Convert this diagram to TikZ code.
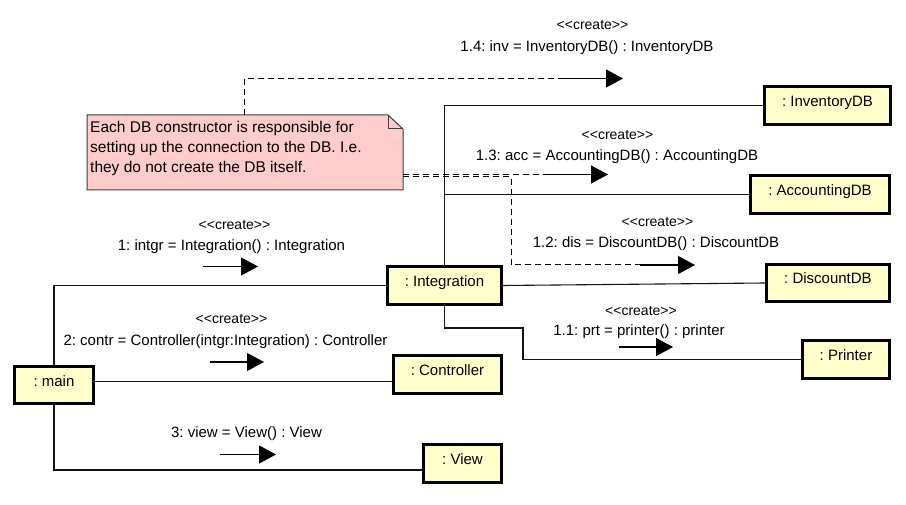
\documentclass[tikz,border=0pt]{standalone}
\usepackage{fontspec}
\setmainfont{Liberation Sans}
\usetikzlibrary{arrows.meta,backgrounds}
\definecolor{objfill}{RGB}{255,255,204}
\definecolor{notefill}{RGB}{255,204,204}
\definecolor{notedraw}{RGB}{60,60,60}
\definecolor{linec}{RGB}{20,20,20}
\newcommand{\crt}{<\kern0pt<create>\kern0pt>}
\tikzset{
  obj/.style={draw=black, line width=3pt, fill=objfill, inner sep=0pt,
    font=\fontsize{15}{18}\selectfont, text height=8pt, text depth=6pt},
  link/.style={draw=linec, line width=1.1pt},
  notelink/.style={draw=black, line width=1pt, dash pattern=on 6pt off 4pt},
  msg/.style={draw=black, line width=1.1pt, -{Triangle[length=17pt,width=18pt]}},
  lbl/.style={font=\fontsize{15}{18}\selectfont, inner sep=0pt},
  stereo/.style={font=\fontsize{14}{17}\selectfont, inner sep=0pt},
}
\begin{document}
\frenchspacing
\begin{tikzpicture}[x=1pt,y=-1pt]
\useasboundingbox (0,0) rectangle (906,505);

% objects
\node[obj, minimum width=79pt, minimum height=37pt] (main) at (54,385) {: main};
\node[obj, minimum width=114pt, minimum height=38pt] (integ) at (444.5,285.5) {: Integration};
\node[obj, minimum width=108pt, minimum height=38pt] (contr) at (447.5,374.5) {: Controller};
\node[obj, minimum width=78pt, minimum height=38pt] (view) at (462.5,463.5) {: View};
\node[obj, minimum width=126pt, minimum height=38pt] (inv) at (827.5,105.5) {: InventoryDB};
\node[obj, minimum width=139pt, minimum height=38pt] (acc) at (820,194.5) {: AccountingDB};
\node[obj, minimum width=123pt, minimum height=37pt] (disc) at (828,283) {: DiscountDB};
\node[obj, minimum width=87pt, minimum height=38pt] (prt) at (846,359.5) {: Printer};

% helper coordinates for link heights
\coordinate (ycontr) at (0,381.5);
\coordinate (yview) at (0,470);
\coordinate (prtbend) at (523,328);

\begin{scope}[on background layer]
\fill[white] (0,0) rectangle (906,505);
\draw[link] (main.north) |- (integ.west);
\draw[link] (main.east |- ycontr) -- (contr.west |- ycontr);
\draw[link] (main.south) |- (view.west |- yview);
\draw[link] (integ.north) |- (inv.west);
\draw[link] (integ.north) |- (acc.west);
\draw[link] (integ.east) -- (disc.west);
\draw[link] (integ.south) |- (prtbend) |- (prt.west);
\end{scope}

% note
\fill[notefill, draw=notedraw, line width=1pt] (87,115) -- (388,115) -- (403,129) -- (403,190) -- (87,190) -- cycle;
\draw[notedraw, line width=1pt] (388,115) -- (388,129) -- (403,129);
\node[anchor=north west, inner sep=0pt, align=left, font=\fontsize{15.5}{20}\selectfont] (note) at (90,121)
  {Each DB constructor is responsible for\\setting up the connection to the DB. I.e.\\they do not create the DB itself.};
\coordinate (notetop) at (244,115);
\coordinate (noteright1) at (403,174.5);
\coordinate (noteright2) at (403,177);

% message arrows
\coordinate (m1s) at (203,266.5); \coordinate (m1e) at (258,266.5);
\coordinate (m2s) at (210,362); \coordinate (m2e) at (264,362);
\coordinate (m3s) at (220,454.5); \coordinate (m3e) at (276,454.5);
\coordinate (m14s) at (563,78.5); \coordinate (m14e) at (623,78.5);
\coordinate (m13s) at (547,174.5); \coordinate (m13e) at (608,174.5);
\coordinate (m12s) at (640,265); \coordinate (m12e) at (695,265);
\coordinate (m11s) at (619,347); \coordinate (m11e) at (673,347);

% note links
\draw[notelink] (notetop) |- (m14s);
\draw[notelink] (noteright1) -- (m13s);
\draw[notelink] (noteright2) -| (511,265) -- (m12s);

\draw[msg] (m1s) -- (m1e);
\draw[msg] (m2s) -- (m2e);
\draw[msg] (m3s) -- (m3e);
\draw[msg] (m14s) -- (m14e);
\draw[msg] (m13s) -- (m13e);
\draw[msg] (m12s) -- (m12e);
\draw[msg] (m11s) -- (m11e);

% labels
\node[stereo] (s1) at (234.5,225.5) {\crt};
\node[lbl] (l1) at (231.5,247) {1: intgr = Integration() : Integration};
\node[stereo] (s2) at (231.5,319) {\crt};
\node[lbl] (l2) at (225.5,342) {2: contr = Controller(intgr:Integration) : Controller};
\node[lbl] (l3) at (246.5,434) {3: view = View() : View};
\node[stereo] (s14) at (592.5,25) {\crt};
\node[lbl] (l14) at (587,48) {1.4: inv = InventoryDB() : InventoryDB};
\node[stereo] (s13) at (617.5,135) {\crt};
\node[lbl] (l13) at (617,157) {1.3: acc = AccountingDB() : AccountingDB};
\node[stereo] (s12) at (657.5,222) {\crt};
\node[lbl] (l12) at (656,244) {1.2: dis = DiscountDB() : DiscountDB};
\node[stereo] (s11) at (641,311) {\crt};
\node[lbl] (l11) at (639,332) {1.1: prt = printer() : printer};
\end{tikzpicture}
\end{document}
